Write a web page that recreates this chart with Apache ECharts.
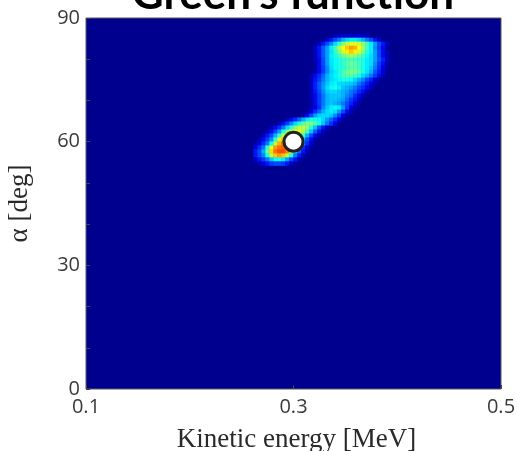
<!DOCTYPE html>
<html>
<head>
<meta charset="utf-8">
<style>html,body{margin:0;padding:0;background:#fff}#c{width:517px;height:451px}</style>
<script src="https://cdn.jsdelivr.net/npm/echarts@6/dist/echarts.min.js"></script>
</head>
<body>
<div id="c"></div>
<script>
const chartTitle = "Green's function";
const xName = 'Kinetic energy [MeV]';
const yName = 'α [deg]';
const xRange = [0.1, 0.5];
const yRange = [0, 90];
const launchPoint = [0.3, 60];
// Intensity (0-100), top row first; leading zeros are empty cells.
const intensityRows = [
[0,0,0,0,0,0,0,0,0,0,0,0,0,0,0,0,0,0,0,0,3,4,5,5,5,5,5,4,3],
[0,0,0,0,0,0,0,0,0,0,0,0,0,0,0,0,0,0,5,10,18,24,30,34,36,36,34,30,24,18,10,5],
[0,0,0,0,0,0,0,0,0,0,0,0,0,0,0,0,4,10,18,26,34,42,50,56,60,60,58,52,44,36,28,18,10,4],
[0,0,0,0,0,0,0,0,0,0,0,0,0,0,0,4,10,20,28,36,44,54,62,68,72,70,62,54,44,36,26,16,8],
[0,0,0,0,0,0,0,0,0,0,0,0,0,0,0,4,10,20,28,35,42,50,58,64,68,64,58,50,42,36,28,18,8,3],
[0,0,0,0,0,0,0,0,0,0,0,0,0,0,0,3,10,20,28,36,40,44,48,52,54,52,48,44,38,34,28,18,8,3],
[0,0,0,0,0,0,0,0,0,0,0,0,0,0,0,3,8,18,28,35,38,40,42,44,44,44,42,40,36,34,28,20,12,4],
[0,0,0,0,0,0,0,0,0,0,0,0,0,0,0,2,8,18,28,35,38,40,42,46,48,46,44,40,36,34,26,16,8,2],
[0,0,0,0,0,0,0,0,0,0,0,0,0,0,0,2,8,16,26,34,38,40,42,44,46,46,44,40,36,32,24,14,6],
[0,0,0,0,0,0,0,0,0,0,0,0,0,0,0,2,8,16,26,33,36,40,44,48,50,48,46,40,35,30,20,12,5],
[0,0,0,0,0,0,0,0,0,0,0,0,0,0,3,8,14,22,30,34,37,40,44,46,46,44,40,34,30,24,16,8,3],
[0,0,0,0,0,0,0,0,0,0,0,0,0,0,3,10,16,24,30,34,36,38,40,40,38,34,30,26,18,12,5,2],
[0,0,0,0,0,0,0,0,0,0,0,0,0,0,4,12,20,27,32,36,37,34,34,33,32,30,24,18,12,6,2],
[0,0,0,0,0,0,0,0,0,0,0,0,0,0,4,12,20,28,34,38,40,36,32,30,28,24,18,14,8,3],
[0,0,0,0,0,0,0,0,0,0,0,0,0,0,3,10,18,26,32,34,34,32,30,28,24,20,14,8,3],
[0,0,0,0,0,0,0,0,0,0,0,0,0,0,3,8,16,24,30,32,32,32,30,26,22,14,8,3],
[0,0,0,0,0,0,0,0,0,0,0,0,0,0,3,8,16,24,30,32,32,30,28,22,16,10,4],
[0,0,0,0,0,0,0,0,0,0,0,0,0,0,3,8,16,24,30,32,30,28,24,18,12,6,2],
[0,0,0,0,0,0,0,0,0,0,0,0,0,0,2,6,14,26,32,36,38,36,28,16,6,2],
[0,0,0,0,0,0,0,0,0,0,0,0,0,2,6,14,22,30,34,36,34,28,18,8,3],
[0,0,0,0,0,0,0,0,0,0,0,0,2,8,18,28,33,34,34,32,26,16,6,2],
[0,0,0,0,0,0,0,0,3,8,14,22,30,36,40,40,38,34,28,22,14,6],
[0,0,0,0,0,0,3,8,16,26,34,40,46,50,50,46,40,32,24,14,6],
[0,0,0,0,3,8,14,24,34,42,50,56,56,52,42,32,20,10,4],
[0,0,0,3,8,16,28,40,50,56,60,60,54,44,32,20,10,3],
[0,0,4,10,18,30,44,56,64,66,64,56,44,30,18,8,2],
[0,3,8,16,26,42,58,68,72,70,62,48,32,18,8,2],
[2,6,14,24,38,56,70,76,76,70,56,40,26,14,5],
[6,14,24,42,60,72,76,78,74,62,44,28,14,5],
[10,18,30,48,66,76,80,80,74,58,38,22,10,3],
[10,18,26,40,56,68,72,68,56,40,24,12,3],
[4,10,16,24,32,38,40,36,28,18,10,3],
[0,3,6,10,16,18,18,16,10,4]
];
const colCount = 104, rowCount = 93, firstCol = 42, firstRowFromTop = 4;
const jetStops = ['#00008f','#0000e0','#0020ff','#0050ff','#0080ff','#00c0ff','#00ffff','#40ffc0','#80ff80','#c0ff40','#ffff00','#ffc000','#ff8000','#ff4000','#ff0000','#c00000','#800000'];

const xCells = [], yCells = [];
for (let i = 0; i < colCount; i++) xCells.push(String(i));
for (let j = 0; j < rowCount; j++) yCells.push(String(j));
const cells = [];
intensityRows.forEach((row, r) => row.forEach((v, c) => {
  if (v > 0) cells.push([firstCol + c, rowCount - 1 - firstRowFromTop - r, v]);
}));

const tickFont = {fontFamily: '"Open Sans", sans-serif', fontSize: 20, color: '#3a3a3a'};
const nameFont = {fontFamily: '"Liberation Serif", serif', fontSize: 27, color: '#2a2a2a'};

const chart = echarts.init(document.getElementById('c'), null, {renderer: 'canvas'});
chart.setOption({
  animation: false,
  backgroundColor: '#fff',
  title: {
    text: chartTitle, left: 288, top: -32, textAlign: 'center',
    textStyle: {fontFamily: 'Lato, sans-serif', fontWeight: 'bold', fontSize: 44, color: '#000'}
  },
  grid: {left: 86, top: 18, width: 415, height: 371, show: true, backgroundColor: '#00008f', borderColor: '#5a5a5a', borderWidth: 1, outerBoundsMode: 'none'},
  visualMap: {
    show: false, seriesIndex: 0, dimension: 2, min: 0, max: 100,
    inRange: {color: jetStops}
  },
  xAxis: [
    {type: 'category', data: xCells, show: false},
    {type: 'value', position: 'bottom', min: xRange[0], max: xRange[1], interval: 0.2,
     name: xName, nameLocation: 'middle', nameGap: 37, nameTextStyle: Object.assign({padding: [0, 0, 0, 6]}, nameFont),
     axisLine: {show: false}, splitLine: {show: false},
     axisTick: {show: true, inside: true, length: 4, lineStyle: {color: '#444'}},
     axisLabel: Object.assign({margin: 8, formatter: v => v.toFixed(1)}, tickFont), z: 5}
  ],
  yAxis: [
    {type: 'category', data: yCells, show: false},
    {type: 'value', position: 'left', min: yRange[0], max: yRange[1], interval: 30,
     name: yName, nameLocation: 'middle', nameGap: 53, nameTextStyle: nameFont,
     axisLine: {show: false}, splitLine: {show: false},
     axisTick: {show: true, inside: true, length: 4, lineStyle: {color: '#444'}},
     minorTick: {show: true, splitNumber: 3, length: 4, lineStyle: {color: '#444'}},
     axisLabel: Object.assign({margin: 6}, tickFont), z: 5}
  ],
  series: [
    {type: 'heatmap', xAxisIndex: 0, yAxisIndex: 0, data: cells, progressive: 0, itemStyle: {borderWidth: 0}},
    {type: 'scatter', xAxisIndex: 1, yAxisIndex: 1, data: [launchPoint], symbol: 'circle', symbolSize: 19, z: 10,
     itemStyle: {color: '#fff', borderColor: '#222', borderWidth: 3, opacity: 1}}
  ]
});
</script>
</body>
</html>
